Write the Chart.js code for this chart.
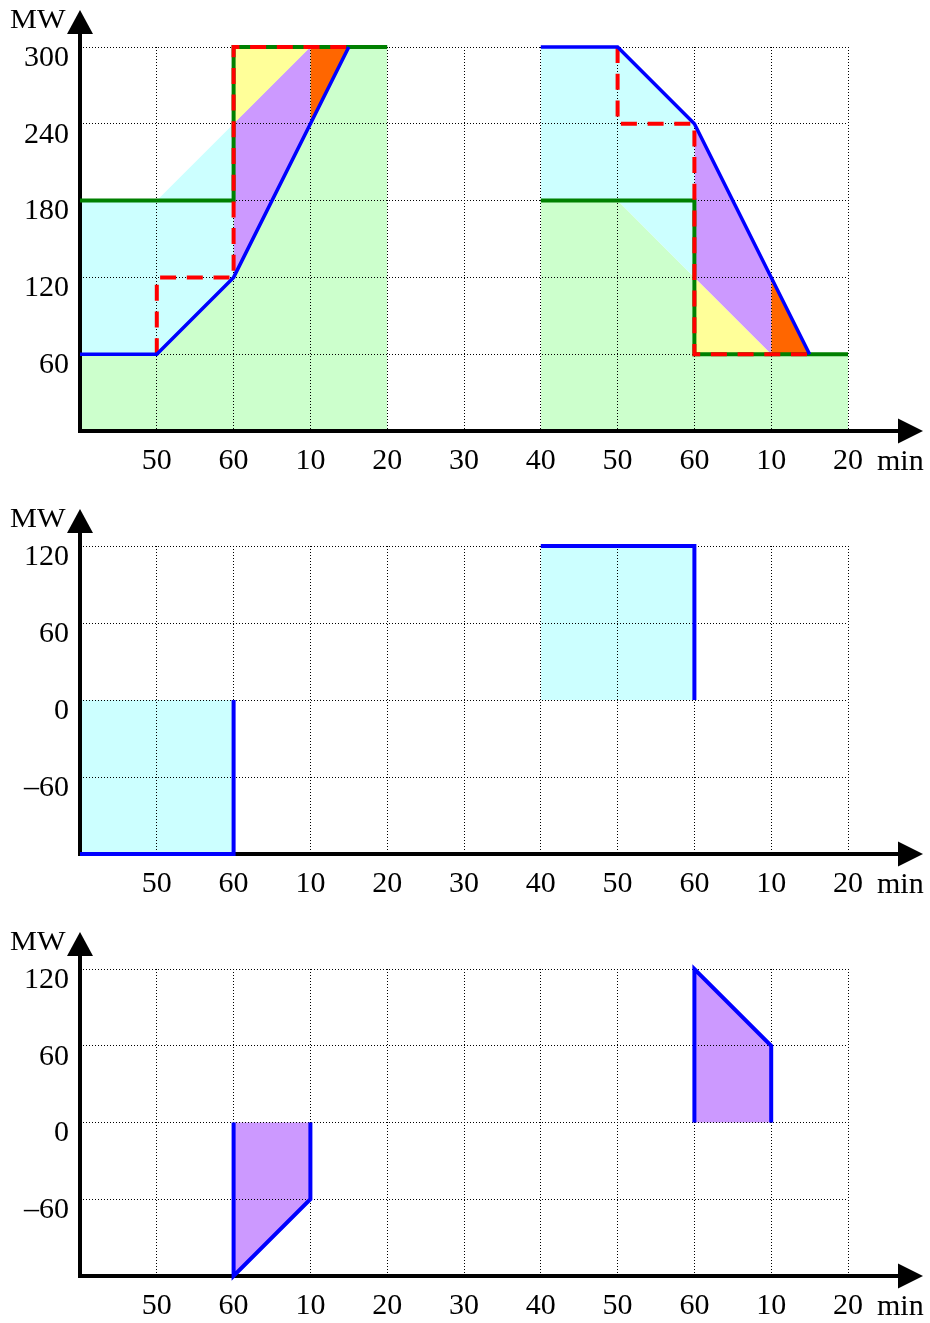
<!DOCTYPE html>
<html><head><meta charset="utf-8">
<script src="https://cdn.jsdelivr.net/npm/chart.js@4/dist/chart.umd.min.js"></script>
<style>
html,body{margin:0;padding:0;background:#fff;width:930px;height:1323px;overflow:hidden}
canvas{position:absolute;left:0}
</style></head>
<body>
<canvas id="c1" width="930" height="480" style="top:0px"></canvas>
<canvas id="c2" width="930" height="400" style="top:500px"></canvas>
<canvas id="c3" width="930" height="401" style="top:922px"></canvas>
<script>
// ---- ticks / labels ----
const xTicks = [0,1,2,3,4,5,6,7,8,9,10];
const xLabels = ['', '50','60','10','20','30','40','50','60','10','20'];
const xUnit = 'min';
const yUnit = 'MW';
const yTicksTop = [0,60,120,180,240,300];
const yLabelsTop = ['', '60','120','180','240','300'];
const yTicksLow = [-120,-60,0,60,120];
const yLabelsLow = ['', '\u201360','0','60','120'];

// ---- panel 1 (power, MW) ----
const p1BlueA  = [[0,60],[1,60],[2,120],[3.5,300]];
const p1BlueB  = [[6,300],[7,300],[8,240],[9.5,60]];
const p1GreenA = [[0,180],[2,180],[2,300],[4,300]];
const p1GreenB = [[6,180],[8,180],[8,60],[10,60]];
const p1RedA   = [[1,60],[1,120],[2,120],[2,300],[3.5,300]];
const p1RedB   = [[7,300],[7,240],[8,240],[8,60],[9.5,60]];
const p1GreenAreaA  = [[0,180],[2,180],[2,300],[4,300]];
const p1GreenAreaB  = [[6,180],[7,180],[8,120],[8,60],[10,60]];
const p1CyanEdgeA   = [[0,180],[1,180],[2,240]];
const p1CyanEdgeB   = [[6,180],[7,180],[8,120]];
const p1YellowEdgeA = [[2,240],[3,300]];
const p1YellowEdgeB = [[8,120],[9,60]];
const p1PurpleEdgeA = [[2,240],[3,300]];
const p1PurpleEdgeB = [[8,120],[9,60]];
const p1OrangeEdgeA = [[3,240],[3.5,300]];
const p1OrangeEdgeB = [[9,120],[9.5,60]];

// ---- panel 2 ----
const p2BlueA = [[0,-120],[2,-120],[2,0]];
const p2BlueB = [[6,120],[8,120],[8,0]];
const p2CyanA = [[0,0],[2,0]];
const p2CyanB = [[6,120],[8,120]];

// ---- panel 3 ----
const p3BlueA = [[2,0],[2,-120],[3,-60],[3,0]];
const p3BlueB = [[8,0],[8,120],[9,60],[9,0]];
const p3PurpleA = [[2,-120],[3,-60]];
const p3PurpleB = [[8,120],[9,60]];

const COL = {blue:'#0000ff', green:'#008000', red:'#ff0000',
  gFill:'#ccffcc', cFill:'#ccffff', yFill:'#ffff99', pFill:'#cc99ff', oFill:'#ff6600'};
const FONT = '"Liberation Serif", "Times New Roman", serif';

const toXY = pts => pts.map(([x,y]) => ({x, y}));
function lineDs(pts, color, width, dash, order) {
  return {data: toXY(pts), borderColor: color, borderWidth: width, borderDash: dash || [],
    borderCapStyle: 'butt', borderJoinStyle: 'miter', pointRadius: 0, fill: false,
    tension: 0, order, clip: false, backgroundColor: 'transparent'};
}
function areaDs(pts, color, fill, order) {
  return {data: toXY(pts), borderWidth: 0, borderColor: 'transparent', backgroundColor: color,
    fill, pointRadius: 0, tension: 0, order, clip: false};
}

const axesPlugin = {
  id: 'axesArrows',
  beforeDatasetsDraw(chart) {
    const {ctx, chartArea: a} = chart;
    ctx.save();
    ctx.strokeStyle = '#000'; ctx.fillStyle = '#000'; ctx.lineWidth = 4;
    ctx.beginPath();
    ctx.moveTo(a.left, a.bottom + 2); ctx.lineTo(a.left, a.top - 14);
    ctx.moveTo(a.left - 2, a.bottom); ctx.lineTo(a.right + 51, a.bottom);
    ctx.stroke();
    ctx.beginPath();
    ctx.moveTo(a.left, a.top - 37); ctx.lineTo(a.left + 13, a.top - 13); ctx.lineTo(a.left - 13, a.top - 13);
    ctx.closePath(); ctx.fill();
    const ax = a.right + 50;
    ctx.beginPath();
    ctx.moveTo(ax + 25, a.bottom); ctx.lineTo(ax, a.bottom - 12.5); ctx.lineTo(ax, a.bottom + 12.5);
    ctx.closePath(); ctx.fill();
    ctx.textAlign = 'left'; ctx.textBaseline = 'alphabetic';
    ctx.font = '30px ' + FONT;
    ctx.fillText(xUnit, a.right + 29, a.bottom + 39);
    ctx.save();
    ctx.translate(10, a.top - 19); ctx.scale(1.12, 1);
    ctx.font = '27px ' + FONT;
    ctx.fillText(yUnit, 0, 0);
    ctx.restore();
    ctx.restore();
  }
};

function makeScales(yTicks, yLabels, xH) {
  const tickFont = {size: 30, family: FONT};
  return {
    x: {type: 'linear', min: 0, max: 10,
      afterBuildTicks: s => { s.ticks = xTicks.map(v => ({value: v})); },
      afterFit: s => { s.height = xH; },
      ticks: {callback: (v, i) => xLabels[i], padding: 12, font: tickFont, color: '#000',
        maxRotation: 0, minRotation: 0, autoSkip: false},
      grid: {color: '#000', lineWidth: 1, drawTicks: false},
      border: {display: false, dash: [1, 2]}},
    y: {type: 'linear', min: yTicks[0], max: yTicks[yTicks.length - 1],
      afterBuildTicks: s => { s.ticks = yTicks.map(v => ({value: v})); },
      afterFit: s => { s.width = 80; },
      ticks: {callback: (v, i) => yLabels[i], padding: 11, labelOffset: 11, font: tickFont,
        color: '#000', autoSkip: false},
      grid: {color: '#000', lineWidth: 1, drawTicks: false},
      border: {display: false, dash: [1, 2]}}
  };
}

function makeChart(id, datasets, yTicks, yLabels, top, xH) {
  return new Chart(document.getElementById(id), {
    type: 'line',
    data: {datasets},
    options: {
      responsive: false, animation: false, devicePixelRatio: 1, events: [],
      layout: {padding: {top, right: 82, left: 0, bottom: 0}},
      plugins: {legend: {display: false}, tooltip: {enabled: false}, filler: {drawTime: 'beforeDraw', propagate: false}},
      scales: makeScales(yTicks, yLabels, xH)
    },
    plugins: [axesPlugin]
  });
}

Chart.defaults.font.family = FONT;

// panel 1: indices 2 and 3 are the blue lines used as fill boundaries
const ds1 = [
  areaDs(p1GreenAreaA, COL.gFill, 'origin', 40),        // 0
  areaDs(p1GreenAreaB, COL.gFill, 'origin', 40),        // 1
  lineDs(p1BlueA, COL.blue, 3.5, [], 1),                // 2
  lineDs(p1BlueB, COL.blue, 3.5, [], 1),                // 3
  areaDs(p1CyanEdgeA, COL.cFill, 2, 30),
  areaDs(p1CyanEdgeB, COL.cFill, 3, 30),
  areaDs(p1YellowEdgeA, COL.yFill, {value: 300}, 20),
  areaDs(p1YellowEdgeB, COL.yFill, {value: 60}, 20),
  areaDs(p1PurpleEdgeA, COL.pFill, 2, 20),
  areaDs(p1PurpleEdgeB, COL.pFill, 3, 20),
  areaDs(p1OrangeEdgeA, COL.oFill, {value: 300}, 20),
  areaDs(p1OrangeEdgeB, COL.oFill, {value: 60}, 20),
  lineDs(p1GreenA, COL.green, 4, [], 3),
  lineDs(p1GreenB, COL.green, 4, [], 3),
  lineDs(p1RedA, COL.red, 4, [16, 10.7], 2),
  lineDs(p1RedB, COL.red, 4, [16, 10.7], 2)
];
makeChart('c1', ds1, yTicksTop, yLabelsTop, 47, 49);

const ds2 = [
  areaDs(p2CyanA, COL.cFill, {value: -120}, 20),
  areaDs(p2CyanB, COL.cFill, {value: 0}, 20),
  lineDs(p2BlueA, COL.blue, 4, [], 1),
  lineDs(p2BlueB, COL.blue, 4, [], 1)
];
makeChart('c2', ds2, yTicksLow, yLabelsLow, 46, 46);

const ds3 = [
  areaDs(p3PurpleA, COL.pFill, {value: 0}, 20),
  areaDs(p3PurpleB, COL.pFill, {value: 0}, 20),
  lineDs(p3BlueA, COL.blue, 4, [], 1),
  lineDs(p3BlueB, COL.blue, 4, [], 1)
];
makeChart('c3', ds3, yTicksLow, yLabelsLow, 47, 47);
</script>
</body></html>
